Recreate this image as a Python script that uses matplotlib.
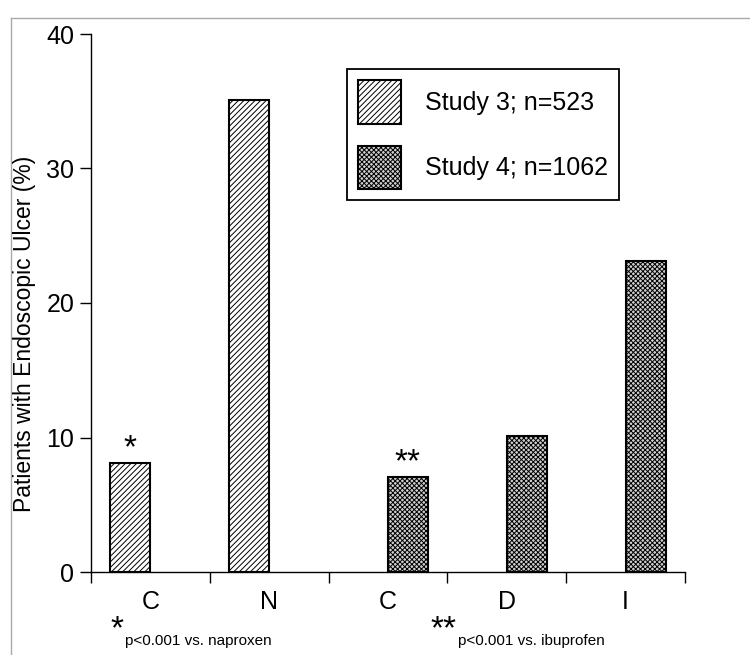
"""Endoscopic ulcer rates, Study 3 vs Study 4 (hatched grouped bars)."""

import matplotlib
matplotlib.use("Agg")
import matplotlib.pyplot as plt
from matplotlib.lines import Line2D
import numpy as np

plt.rcParams["font.family"] = ["Liberation Sans", "DejaVu Sans"]
plt.rcParams["hatch.linewidth"] = 0.7

CATEGORIES = ["C", "N", "C", "D", "I"]
STUDY3_POS = [0, 1]
STUDY3_VALS = [8.1, 35.1]
STUDY4_POS = [2, 3, 4]
STUDY4_VALS = [7.1, 10.1, 23.1]
STUDY3_LABEL = "Study 3; n=523"
STUDY4_LABEL = "Study 4; n=1062"
STARS = [("*", 0, 8.1, -1), ("**", 2, 7.1, 1)]   # text, category, value, side
YLABEL = "Patients with Endoscopic Ulcer (%)"
YTICKS = [0, 10, 20, 30, 40]

W, H = 750, 655
BAR_W = 40 / 119


def main() -> None:
    fig = plt.figure(figsize=(W / 100, H / 100), dpi=100)
    ax = fig.add_axes([91 / W, 1 - 572 / H, (685 - 91) / W, (572 - 34) / H])

    b3 = ax.bar(np.array(STUDY3_POS) - BAR_W / 2, STUDY3_VALS, width=BAR_W,
                facecolor="white", edgecolor="black", linewidth=1.5,
                hatch="//////", label=STUDY3_LABEL, zorder=2)
    b4 = ax.bar(np.array(STUDY4_POS) + BAR_W / 2, STUDY4_VALS, width=BAR_W,
                facecolor="#d0d0d0", edgecolor="black", linewidth=1.5,
                hatch="xxxxxxx", label=STUDY4_LABEL, zorder=2)

    # significance marks above the coxib bars
    for txt, c, v, side in STARS:
        ax.annotate(txt, (c + side * BAR_W / 2, v), xytext=(0, -1),
                    textcoords="offset points", ha="center", va="bottom",
                    fontsize=24)

    ax.set_xlim(-0.5, len(CATEGORIES) - 0.5)
    ax.set_ylim(0, 40)
    ax.set_xticks(np.arange(len(CATEGORIES) + 1) - 0.5)
    ax.set_xticklabels([])
    ax.set_xticks(np.arange(len(CATEGORIES)), minor=True)
    ax.set_xticklabels(CATEGORIES, minor=True, fontsize=18)
    ax.tick_params(axis="x", which="major", direction="out", length=8,
                   width=1)
    ax.tick_params(axis="x", which="minor", length=0, pad=13)
    ax.set_yticks(YTICKS)
    ax.tick_params(axis="y", direction="out", length=8, width=1, pad=4,
                   labelsize=18)
    for s in ("top", "right"):
        ax.spines[s].set_visible(False)
    for s in ("left", "bottom"):
        ax.spines[s].set_linewidth(1.0)

    fig.text(25 / W, 1 - 334 / H, YLABEL, rotation=90, ha="center",
             va="center", fontsize=16.5)

    leg = ax.legend(handles=[b3, b4], loc="upper left",
                    bbox_to_anchor=(347 / W, 1 - 69 / H),
                    bbox_transform=fig.transFigure, borderaxespad=0,
                    fontsize=18, handlelength=1.72, handleheight=2.3,
                    labelspacing=0.87, borderpad=0.45, handletextpad=0.95,
                    fancybox=False, framealpha=1, edgecolor="black")
    leg.get_frame().set_linewidth(1.3)

    # footnotes
    fig.text(117 / W, 1 - 630 / H, "*", ha="center", va="center", fontsize=24)
    fig.text(125 / W, 1 - 641 / H, "p<0.001 vs. naproxen", ha="left",
             va="center", fontsize=11)
    fig.text(443 / W, 1 - 630 / H, "**", ha="center", va="center",
             fontsize=24)
    fig.text(458 / W, 1 - 641 / H, "p<0.001 vs. ibuprofen", ha="left",
             va="center", fontsize=11)

    # thin grey frame around the slide
    fig.add_artist(Line2D([11 / W, 11 / W], [0, 1 - 18 / H],
                          transform=fig.transFigure, color="#aaaaaa", lw=1))
    fig.add_artist(Line2D([11 / W, 1], [1 - 18 / H, 1 - 18 / H],
                          transform=fig.transFigure, color="#aaaaaa", lw=1))

    fig.savefig("out.png", dpi=100)


if __name__ == "__main__":
    main()
